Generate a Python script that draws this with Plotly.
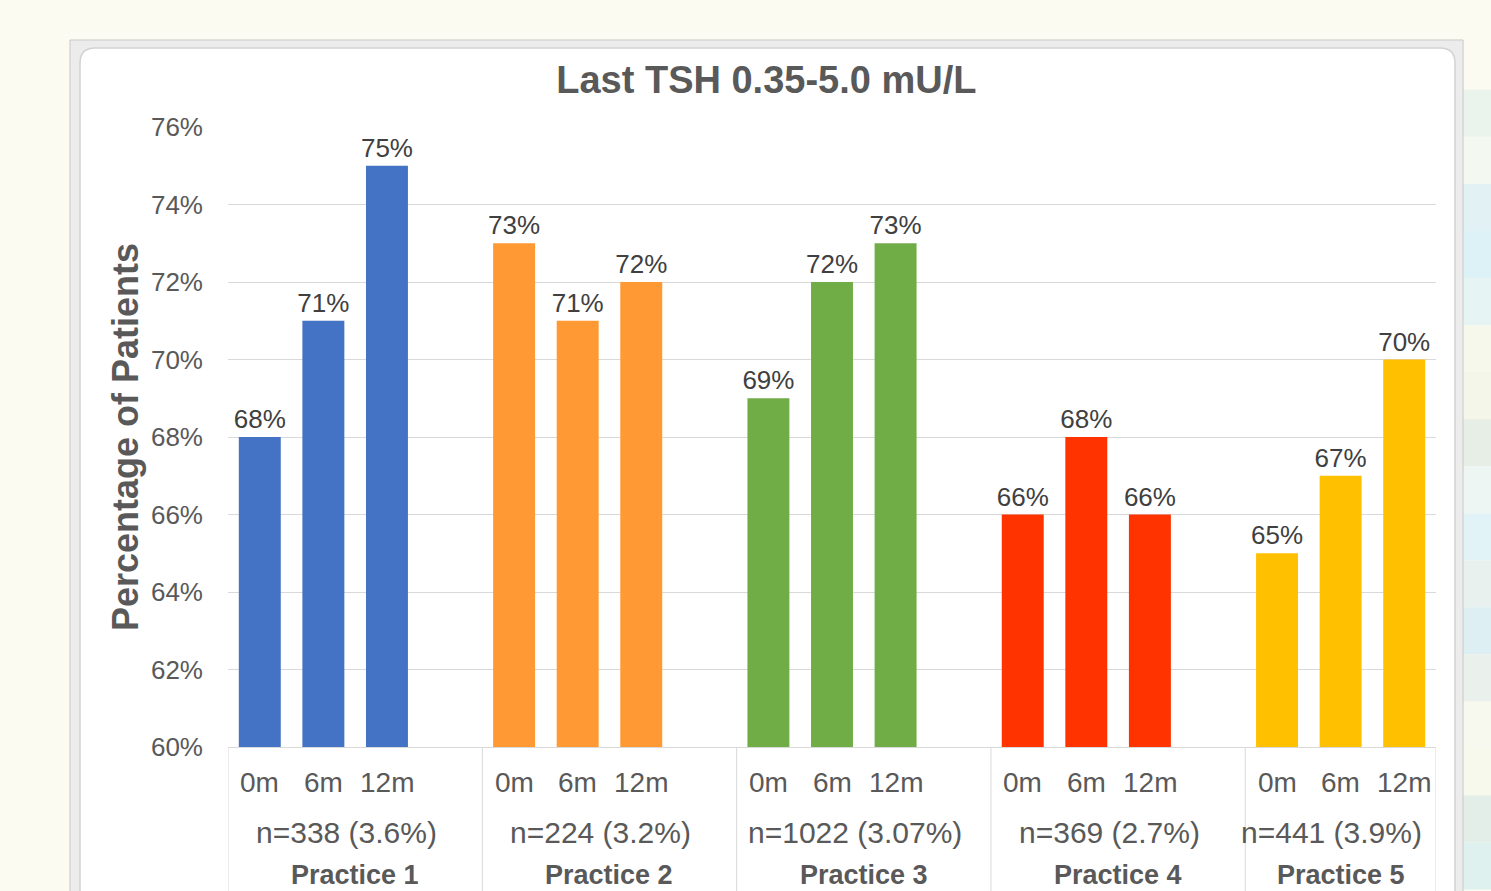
import plotly.graph_objects as go

# ---------------- data ----------------
practices = ["Practice 1", "Practice 2", "Practice 3", "Practice 4", "Practice 5"]
timepoints = ["0m", "6m", "12m"]
n_labels = ["n=338 (3.6%)", "n=224 (3.2%)", "n=1022 (3.07%)", "n=369 (2.7%)", "n=441 (3.9%)"]
p1_values = [68, 71, 75]
p2_values = [73, 71, 72]
p3_values = [69, 72, 73]
p4_values = [66, 68, 66]
p5_values = [65, 67, 70]
colors = ["#4472C4", "#FF9933", "#70AD47", "#FF3300", "#FFC000"]
y_ticks = [60, 62, 64, 66, 68, 70, 72, 74, 76]
y_tick_labels = [f"{v}%" for v in y_ticks]

all_values = [p1_values, p2_values, p3_values, p4_values, p5_values]

FONT = "Liberation Sans, Arial, sans-serif"
GREY = "#595959"

# slot layout: each practice occupies 4 category slots (3 bars + 1 blank), last blank omitted
slots_per_group = len(timepoints) + 1
n_slots = slots_per_group * len(practices) - 1
edges = [g * slots_per_group - 0.5 for g in range(len(practices))] + [n_slots - 0.5]

fig = go.Figure()
for g, (name, vals) in enumerate(zip(practices, all_values)):
    xs = [g * slots_per_group + i for i in range(len(timepoints))]
    fig.add_trace(go.Bar(
        x=xs, y=vals, name=name, width=0.66,
        marker=dict(color=colors[g], line=dict(width=0)),
        text=[f"{v}%" for v in vals], textposition="outside", constraintext="none",
        textfont=dict(size=26, color="#404040", family=FONT),
        cliponaxis=False, showlegend=False, hoverinfo="x+y",
    ))

annotations = []
# time point labels
for g in range(len(practices)):
    for i, tp in enumerate(timepoints):
        annotations.append(dict(
            x=g * slots_per_group + i, y=0, xref="x", yref="paper",
            text=tp, showarrow=False, yanchor="middle", yshift=-35,
            font=dict(size=28, color=GREY, family=FONT)))
# n labels and practice labels
for g in range(len(practices)):
    cx = (edges[g] + edges[g + 1]) / 2
    annotations.append(dict(
        x=cx, y=0, xref="x", yref="paper", text=n_labels[g], showarrow=False,
        yanchor="middle", yshift=-85, xshift=-9,
        font=dict(size=30, color=GREY, family=FONT)))
    annotations.append(dict(
        x=cx, y=0, xref="x", yref="paper", text="<b>" + practices[g] + "</b>",
        showarrow=False, yanchor="middle", yshift=-128,
        font=dict(size=27, color=GREY, family=FONT)))
# y axis title
annotations.append(dict(
    x=0, y=0.5, xref="paper", yref="paper", text="<b>Percentage of Patients</b>",
    showarrow=False, textangle=-90, xanchor="center", yanchor="middle", xshift=-103,
    font=dict(size=36, color=GREY, family=FONT)))

shapes = []
# decorative striped strip at the slide's right edge
strip_colors = ["#EAF3EC", "#F3F8F0", "#E2F1F3", "#DDF2F6", "#E7F4F4", "#F6F8EC",
                "#F4F6EA", "#E6EEE6", "#EEF6F4", "#E2F3F7", "#E9F1EF", "#DDEFF3",
                "#EAF0EC", "#F8F9EE", "#F7F9EC", "#E4EEE9", "#DFF1EE"]
sy_top, sy_bot = 1.06, -0.23
step = (sy_top - sy_bot) / len(strip_colors)
for k, c in enumerate(strip_colors):
    shapes.append(dict(type="rect", xref="paper", yref="paper",
                       x0=1.0224, x1=1.06, y0=sy_top - (k + 1) * step, y1=sy_top - k * step,
                       line=dict(width=0), fillcolor=c, layer="below"))
# outer frame band
shapes.append(dict(type="rect", xref="paper", yref="paper",
                   x0=-0.1308, x1=1.0224, y0=-0.3, y1=1.1403,
                   line=dict(color="#C9C9C9", width=1), fillcolor="#ECECEC", layer="below"))
# inner rounded white chart area
rx, ry = 0.0124, 0.0242
x0, x1, y0, y1 = -0.1225, 1.0157, -0.3, 1.1274
path = (f"M {x0},{y0} L {x0},{y1-ry} Q {x0},{y1} {x0+rx},{y1} "
        f"L {x1-rx},{y1} Q {x1},{y1} {x1},{y1-ry} L {x1},{y0} Z")
shapes.append(dict(type="path", xref="paper", yref="paper", path=path,
                   line=dict(color="#D2D2D2", width=1.5), fillcolor="white", layer="below"))
# group dividers below the axis
for e in edges:
    shapes.append(dict(type="line", xref="x", yref="paper", x0=e, x1=e, y0=0, y1=-0.25,
                       line=dict(color="#D9D9D9", width=1)))

fig.update_layout(
    width=1491, height=891,
    margin=dict(l=228, r=55, t=127, b=144),
    paper_bgcolor="#FBFBF1", plot_bgcolor="white",
    barmode="overlay",
    title=dict(text="<b>Last TSH 0.35-5.0 mU/L</b>", x=0.514, y=0.91,
               xanchor="center", yanchor="middle",
               font=dict(size=38, color=GREY, family=FONT)),
    xaxis=dict(range=[-0.5, n_slots - 0.5], showticklabels=False, showgrid=False,
               zeroline=False, showline=True, linecolor="#D9D9D9", linewidth=1, ticks=""),
    yaxis=dict(range=[60, 76], tickvals=y_ticks, ticktext=y_tick_labels, showgrid=True,
               gridcolor="#D9D9D9", gridwidth=1, zeroline=False, showline=False,
               ticks="", ticklabelstandoff=24,
               tickfont=dict(size=26, color=GREY, family=FONT)),
    annotations=annotations, shapes=shapes,
)

fig.write_html("out.html", config={"displayModeBar": False},
               post_script="document.body.style.margin='0';document.body.style.overflow='hidden';")
